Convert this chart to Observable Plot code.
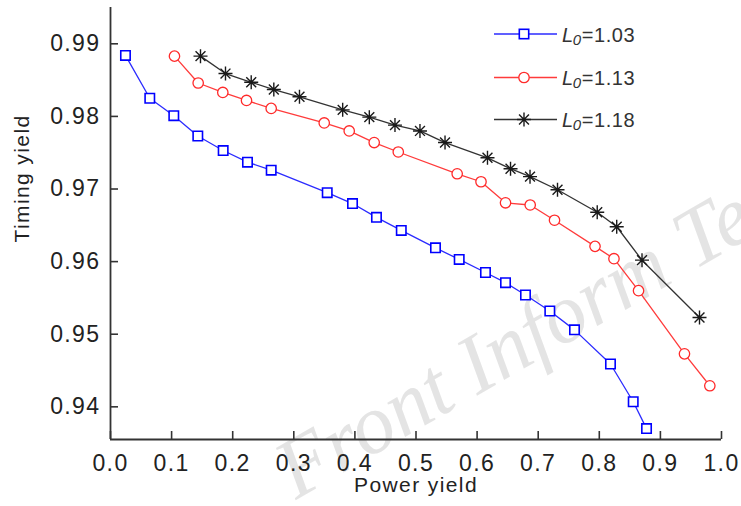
<!DOCTYPE html>
<html><head><meta charset="utf-8">
<script src="https://cdn.jsdelivr.net/npm/d3@7"></script>
<script src="https://cdn.jsdelivr.net/npm/@observablehq/plot@0.6"></script>
<style>
html,body{margin:0;padding:0;background:#fff;overflow:hidden;}
</style>
</head><body><div id="chart"></div>
<script>
// ---- data ----
const seriesLabels = ["1.03", "1.13", "1.18"];

const powerA  = [0.0245,0.0643,0.1036,0.1429,0.1844,0.2242,0.2630,0.3547,0.3961,0.4353,0.4759,0.5319,0.5707,0.6137,0.6465,0.6792,0.7190,0.7594,0.8183,0.8555,0.8773];
const timingA = [0.9884,0.9825,0.9801,0.9773,0.9753,0.9737,0.9726,0.9695,0.9680,0.9661,0.9643,0.9619,0.9603,0.9585,0.9571,0.9554,0.9532,0.9506,0.9459,0.9407,0.9370];

const powerB  = [0.1047,0.1435,0.1838,0.2226,0.2630,0.3498,0.3907,0.4316,0.4710,0.5674,0.6064,0.6465,0.6869,0.7267,0.7930,0.8240,0.8642,0.9394,0.9809];
const timingB = [0.9883,0.9846,0.9833,0.9822,0.9811,0.9791,0.9780,0.9764,0.9751,0.9721,0.9710,0.9681,0.9678,0.9657,0.9621,0.9604,0.9560,0.9473,0.9429];

const powerC  = [0.1473,0.1882,0.2303,0.2673,0.3093,0.3800,0.4236,0.4656,0.5065,0.5475,0.6170,0.6547,0.6866,0.7316,0.7966,0.8285,0.8699,0.9640];
const timingC = [0.9883,0.9859,0.9847,0.9837,0.9827,0.9809,0.9799,0.9788,0.9780,0.9764,0.9743,0.9728,0.9717,0.9699,0.9668,0.9648,0.9602,0.9523];

const xTicks = [0.0,0.1,0.2,0.3,0.4,0.5,0.6,0.7,0.8,0.9,1.0];
const yTicks = [0.94,0.95,0.96,0.97,0.98,0.99];

// ---- build ----
const toRows = (xs, ys, s) => xs.map((x, i) => ({series: s, power: x, timing: ys[i]}));
const rowsA = toRows(powerA, timingA, seriesLabels[0]);
const rowsB = toRows(powerB, timingB, seriesLabels[1]);
const rowsC = toRows(powerC, timingC, seriesLabels[2]);

const colors = ["#0000ff", "#ff2a2a", "#1a1a1a"];
const lineColors = ["#2b2bff", "#ff3b3b", "#333333"];

const squareSym = {draw(ctx, size) {
  const r = Math.sqrt(size / Math.PI);
  ctx.moveTo(-r, -r); ctx.lineTo(r, -r); ctx.lineTo(r, r); ctx.lineTo(-r, r); ctx.closePath();
}};
const starSym = {draw(ctx, size) {
  const r = Math.sqrt(size / Math.PI), d = r * Math.SQRT1_2;
  ctx.moveTo(-r, 0); ctx.lineTo(r, 0);
  ctx.moveTo(0, -r); ctx.lineTo(0, r);
  ctx.moveTo(-d, -d); ctx.lineTo(d, d);
  ctx.moveTo(-d, d); ctx.lineTo(d, -d);
}};

function legendMark() {
  const g = d3.create("svg:g").attr("font-family", "Liberation Sans, Arial, sans-serif");
  const ys = [34, 77.5, 119.5];
  seriesLabels.forEach((lab, i) => {
    const y = ys[i];
    g.append("line").attr("x1", 494).attr("x2", 557).attr("y1", y).attr("y2", y)
      .attr("stroke", lineColors[i]).attr("stroke-width", 1.4);
    const cx = 524;
    if (i === 0) {
      g.append("rect").attr("x", cx - 4.7).attr("y", y - 4.7).attr("width", 9.4).attr("height", 9.4)
        .attr("fill", "white").attr("stroke", colors[0]).attr("stroke-width", 1.6);
    } else if (i === 1) {
      g.append("circle").attr("cx", cx).attr("cy", y).attr("r", 5.2)
        .attr("fill", "white").attr("stroke", colors[1]).attr("stroke-width", 1.3);
    } else {
      const r = 7, d = r * Math.SQRT1_2;
      g.append("path").attr("transform", `translate(${cx},${y})`)
        .attr("d", `M${-r},0L${r},0M0,${-r}L0,${r}M${-d},${-d}L${d},${d}M${-d},${d}L${d},${-d}`)
        .attr("stroke", colors[2]).attr("stroke-width", 1.4).attr("fill", "none");
    }
    const t = g.append("text").attr("x", 562).attr("y", y + 7.5).attr("font-size", 20)
      .attr("text-anchor", "start")
      .attr("fill", "#333").style("letter-spacing", "0.6px");
    t.append("tspan").attr("font-style", "italic").text("L");
    t.append("tspan").attr("font-style", "italic").attr("font-size", 15).attr("dy", 3).attr("dx", -1).text("0");
    t.append("tspan").attr("dy", -3).attr("font-size", 20).text("=" + lab);
  });
  return g.node();
}

function watermarkMark() {
  const g = d3.create("svg:g");
  g.append("text")
    .attr("transform", "translate(296,500) rotate(-30)")
    .attr("text-anchor", "start")
    .attr("font-family", "Liberation Serif, Times New Roman, serif")
    .attr("font-style", "italic")
    .attr("font-size", 84)
    .style("letter-spacing", "0px")
    .attr("fill", "#d9d9d9").attr("fill-opacity", 0.7)
    .text("Front Inform Te");
  return g.node();
}

const yDomain = [0.9355, 0.995];

const plot = Plot.plot({
  width: 741,
  height: 506,
  marginLeft: 110,
  marginRight: 20,
  marginTop: 7,
  marginBottom: 67,
  style: {
    fontFamily: "Liberation Sans, Arial, sans-serif",
    fontSize: "23px",
    color: "#222",
    background: "white",
    letterSpacing: "1.4px"
  },
  x: {domain: [0, 1]},
  y: {domain: yDomain},
  marks: [
    watermarkMark,
    Plot.ruleX([0], {stroke: "#333", strokeWidth: 1.8}),
    Plot.ruleY([yDomain[0]], {stroke: "#333", strokeWidth: 1.8}),
    Plot.axisX({ticks: xTicks, tickFormat: d3.format(".1f"), tickSize: -8, tickPadding: 23,
      stroke: "#333", strokeWidth: 1.6, label: null, fontSize: 23}),
    Plot.axisY({ticks: yTicks, tickFormat: d3.format(".2f"), tickSize: -8, tickPadding: 18,
      stroke: "#333", strokeWidth: 1.6, label: null, fontSize: 23}),
    Plot.text(["Timing yield"], {frameAnchor: "left", dx: -88, dy: 19, rotate: -90, fontSize: 21, fill: "#222"}),
    Plot.text(["Power yield"], {frameAnchor: "bottom", dy: 52, fontSize: 21, fill: "#222"}),

    Plot.line(rowsA, {x: "power", y: "timing", stroke: lineColors[0], strokeWidth: 1.3}),
    Plot.line(rowsB, {x: "power", y: "timing", stroke: lineColors[1], strokeWidth: 1.3}),
    Plot.line(rowsC, {x: "power", y: "timing", stroke: lineColors[2], strokeWidth: 1.3}),

    Plot.dot(rowsA, {x: "power", y: "timing", symbol: squareSym, r: 4.7, fill: "white", stroke: colors[0], strokeWidth: 1.6}),
    Plot.dot(rowsB, {x: "power", y: "timing", symbol: "circle", r: 5.2, fill: "white", stroke: colors[1], strokeWidth: 1.3}),
    Plot.dot(rowsC, {x: "power", y: "timing", symbol: starSym, r: 7, fill: "none", stroke: colors[2], strokeWidth: 1.4}),

    legendMark
  ]
});
document.getElementById("chart").appendChild(plot);
</script>
</body></html>
